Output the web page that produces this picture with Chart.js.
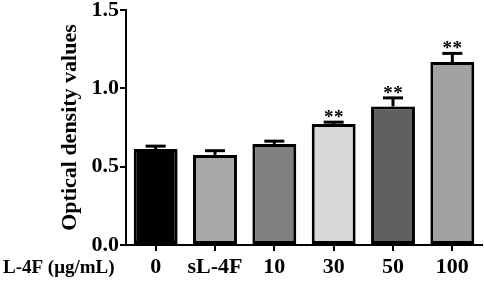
<!DOCTYPE html>
<html><head><meta charset="utf-8">
<script src="https://cdn.jsdelivr.net/npm/chart.js@4"></script>
<style>html,body{margin:0;padding:0;background:#fff}#w{width:484px;height:282px;position:relative}</style>
</head><body><div id="w"><canvas id="c"></canvas></div>
<script>
const categories = ['0', 'sL-4F', '10', '30', '50', '100'];
const means = [0.613, 0.575, 0.645, 0.772, 0.884, 1.168];
const errors = [0.018, 0.027, 0.018, 0.012, 0.055, 0.055];
const significance = ['', '', '', '**', '**', '**'];
const yTicks = [0, 0.5, 1.0, 1.5];
const barColors = ['#000000', '#a8a8a8', '#808080', '#d8d8d8', '#606060', '#a2a2a2'];
const FONT = '"Liberation Serif", "Times New Roman", serif';

const errPlugin = {
  id: 'err',
  afterDatasetsDraw(chart) {
    const ctx = chart.ctx, y = chart.scales.y;
    const meta = chart.getDatasetMeta(0);
    ctx.save();
    ctx.strokeStyle = '#000';
    ctx.fillStyle = '#000';
    meta.data.forEach((bar, i) => {
      const x = bar.x;
      const top = y.getPixelForValue(means[i] + errors[i]);
      const base = y.getPixelForValue(means[i]);
      ctx.lineWidth = 3;
      ctx.beginPath(); ctx.moveTo(x, base); ctx.lineTo(x, top); ctx.stroke();
      ctx.beginPath(); ctx.moveTo(x - 10, top); ctx.lineTo(x + 10, top); ctx.stroke();
      if (significance[i]) {
        ctx.font = 'bold 19px ' + FONT;
        ctx.textAlign = 'center';
        ctx.textBaseline = 'alphabetic';
        const n = significance[i].length;
        for (let k = 0; k < n; k++) {
          ctx.fillText('*', x + (k - (n - 1) / 2) * 10, top + 1);
        }
      }
    });
    // x-axis group label
    ctx.font = 'bold 19px ' + FONT;
    ctx.textAlign = 'left';
    ctx.textBaseline = 'middle';
    ctx.fillText('L-4F (\u03bcg/mL)', 3, 268);
    ctx.restore();
  }
};

new Chart(document.getElementById('c'), {
  type: 'bar',
  data: {
    labels: categories,
    datasets: [{
      data: means,
      backgroundColor: barColors,
      borderColor: '#000',
      borderWidth: 3,
      borderSkipped: false,
      barPercentage: 0.74,
      categoryPercentage: 1.0
    }]
  },
  options: {
    responsive: true,
    maintainAspectRatio: false,
    animation: false,
    layout: { padding: { top: 0, right: 2, left: 0, bottom: 0 } },
    plugins: { legend: { display: false }, tooltip: { enabled: false } },
    scales: {
      x: {
        grid: { display: true, drawOnChartArea: false, drawTicks: true, tickLength: 6, color: '#000', lineWidth: 2, offset: false },
        border: { color: '#000', width: 2 },
        ticks: { color: '#000', font: { family: FONT, size: 22, weight: 'bold' }, padding: 3, maxRotation: 0 },
        afterFit(s) { s.height = 37; }
      },
      y: {
        min: 0, max: 1.5,
        afterBuildTicks(s) { s.ticks = yTicks.map(v => ({ value: v })); },
        grid: { display: true, drawOnChartArea: false, drawTicks: true, tickLength: 6, color: '#000', lineWidth: 2 },
        border: { color: '#000', width: 2 },
        ticks: { color: '#000', font: { family: FONT, size: 22, weight: 'bold' }, padding: 1, callback: v => Number(v).toFixed(1) },
        title: { display: true, text: 'Optical density values', color: '#000', font: { family: FONT, size: 22, weight: 'bold' }, padding: { top: 57, bottom: 0 } },
        afterFit(s) { s.width = 126; s.paddingTop = 10; s.paddingBottom = 0; }
      }
    }
  },
  plugins: [errPlugin]
});
</script>
</body></html>
